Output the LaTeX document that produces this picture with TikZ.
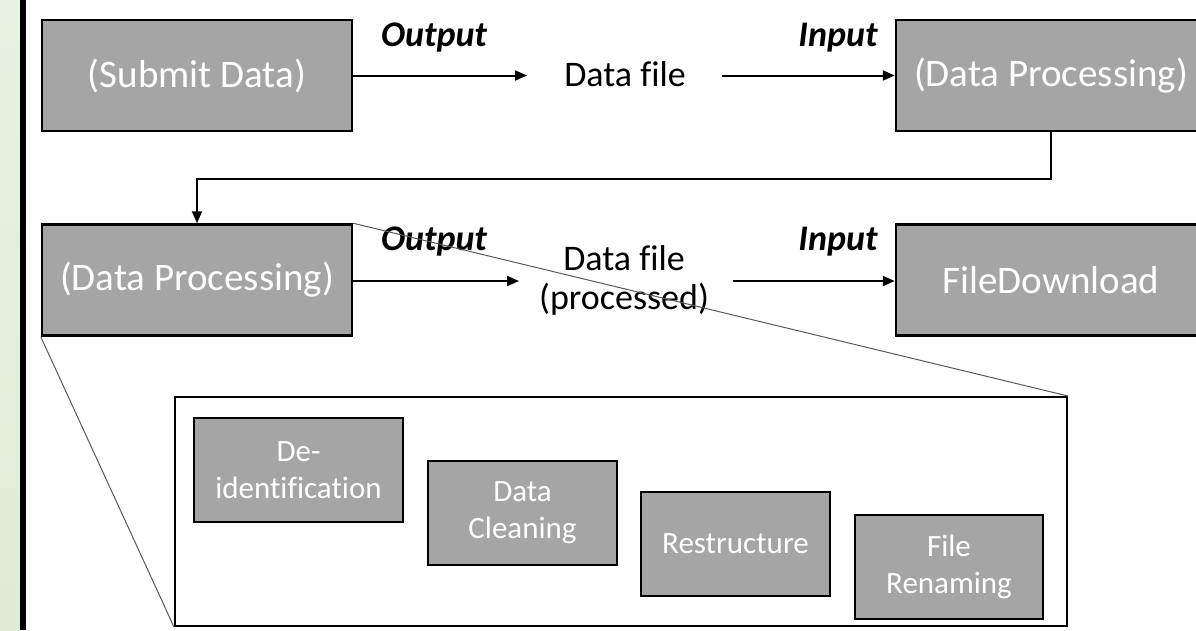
\documentclass[tikz,border=0pt]{standalone}
\usepackage{fontspec}
\setmainfont{Carlito}[Ligatures=NoCommon]
\usetikzlibrary{arrows.meta}
\definecolor{boxgray}{HTML}{A5A5A5}
\definecolor{stripgreentop}{HTML}{E8F2E2}
\definecolor{stripgreenbot}{HTML}{DFEBD4}
\definecolor{zoomgray}{HTML}{595959}

\begin{document}
\begin{tikzpicture}[x=1pt,y=-1pt,
  bigbox/.style={draw=black, line width=2.5pt, fill=boxgray, text=white,
    inner sep=0pt, minimum width=310pt, minimum height=111pt,
    font=\fontsize{39}{47}\selectfont},
  subbox/.style={draw=black, line width=2.5pt, fill=boxgray, text=white,
    inner sep=0pt, align=center, minimum height=104pt,
    font=\fontsize{31}{37}\selectfont},
  insetbox/.style={draw=black, line width=2pt, fill=white, inner sep=0pt,
    minimum width=892pt, minimum height=229pt},
  flow/.style={line width=2pt, -{Triangle[length=12pt,width=10pt]}},
  iolabel/.style={font=\fontsize{36}{42}\selectfont\bfseries\itshape,
    anchor=base, inner sep=0pt},
  filelabel/.style={font=\fontsize{36}{39}\selectfont, align=center, inner sep=0pt},
  zoomline/.style={draw=zoomgray, line width=1pt}]

\useasboundingbox (0,0) rectangle (1196,630);
\clip (0,0) rectangle (1196,630);

% side strip
\shade[top color=stripgreentop, bottom color=stripgreenbot] (0,0) rectangle (20,630);
\fill[black] (20,0) rectangle (25.5,630);

% main process boxes
\node[bigbox] (submit)  at (197,75.5)  {(Submit Data)};
\node[bigbox] (procA)   at (1051,75.5) {(Data Processing)};
\node[bigbox] (procB)   at (197,280)   {(Data Processing)};
\node[bigbox] (download) at (1051,280) {FileDownload};

% data file labels
\node[filelabel, anchor=base] (file1) at (625,86) {Data file};
\node[filelabel] (file2) at (624,280) {Data file\\(processed)};

% output / input labels
\node[iolabel] (out1) at (434,46)  {Output};
\node[iolabel] (in1)  at (838,46)  {Input};
\node[iolabel] (out2) at (434,250) {Output};
\node[iolabel] (in2)  at (838,250) {Input};

% flow arrows
\coordinate (f1end)   at (527,75.5);
\coordinate (f1start) at (722,75.5);
\coordinate (f2end)   at (519,281);
\coordinate (f2start) at (733,281);
\draw[flow] (submit.east |- f1end) -- (f1end);
\draw[flow] (f1start) -- (procA.west |- f1start);
\draw[flow] (procB.east |- f2end) -- (f2end);
\draw[flow] (f2start) -- (download.west |- f2start);
\draw[flow] (procA.south) -- ++(0,47) -| (procB.north);

% detail panel
\node[insetbox] (inset) at (621,511.5) {};
\node[subbox, minimum width=209pt] (deid)    at (298.5,470) {De-\\identification};
\node[subbox, minimum width=189pt] (clean)   at (522.5,513) {Data\\Cleaning};
\node[subbox, minimum width=189pt] (restruct) at (735.5,544) {Restructure};
\node[subbox, minimum width=188pt] (rename)  at (949,567)   {File\\Renaming};

% zoom guide lines
\draw[zoomline] (procB.north east) -- (inset.north east);
\draw[zoomline] (procB.south west) -- (inset.south west);
\end{tikzpicture}
\end{document}
